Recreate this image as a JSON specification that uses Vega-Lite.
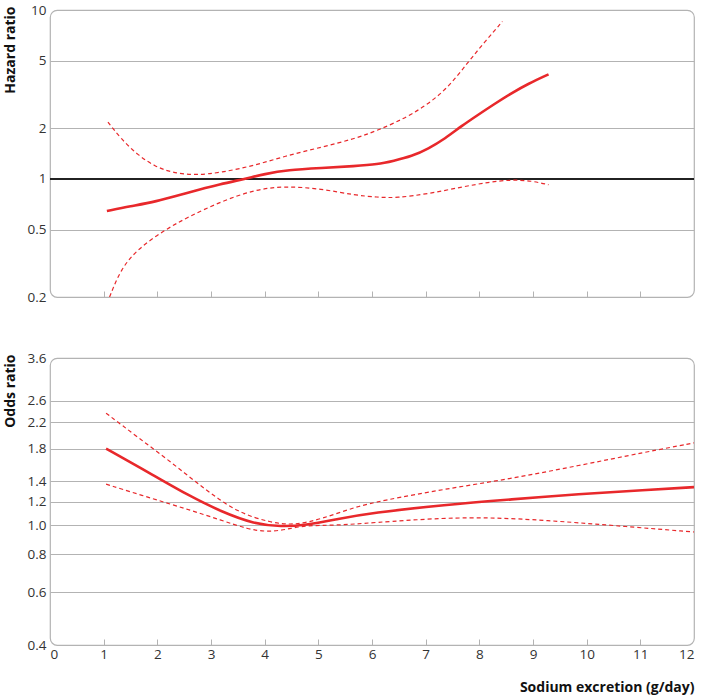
{
  "$schema": "https://vega.github.io/schema/vega-lite/v6.json",
  "padding": {"left": 2, "top": 2, "right": 0, "bottom": 0},
  "background": "white",
  "config": {
    "font": "Open Sans",
    "view": {"stroke": "#b3b3b3", "strokeWidth": 1.2, "cornerRadius": 7},
    "axis": {
      "labelFont": "Open Sans",
      "labelFontSize": 13.5,
      "labelColor": "#333333",
      "titleFont": "Open Sans",
      "titleFontSize": 14,
      "titleFontWeight": "bold",
      "titleColor": "#111111",
      "gridColor": "#b3b3b3",
      "gridWidth": 1.2,
      "tickColor": "#b3b3b3",
      "domain": false
    }
  },
  "datasets": {
    "hr": [
      {"x": 1.06, "y": 0.646, "bound": "est"},
      {"x": 1.5, "y": 0.69, "bound": "est"},
      {"x": 1.95, "y": 0.73, "bound": "est"},
      {"x": 2.57, "y": 0.83, "bound": "est"},
      {"x": 3.19, "y": 0.935, "bound": "est"},
      {"x": 3.63, "y": 1.0, "bound": "est"},
      {"x": 4.0, "y": 1.07, "bound": "est"},
      {"x": 4.43, "y": 1.13, "bound": "est"},
      {"x": 5.06, "y": 1.16, "bound": "est"},
      {"x": 5.68, "y": 1.19, "bound": "est"},
      {"x": 6.11, "y": 1.22, "bound": "est"},
      {"x": 6.4, "y": 1.28, "bound": "est"},
      {"x": 6.74, "y": 1.36, "bound": "est"},
      {"x": 7.05, "y": 1.51, "bound": "est"},
      {"x": 7.36, "y": 1.73, "bound": "est"},
      {"x": 7.67, "y": 2.06, "bound": "est"},
      {"x": 7.98, "y": 2.4, "bound": "est"},
      {"x": 8.29, "y": 2.79, "bound": "est"},
      {"x": 8.6, "y": 3.22, "bound": "est"},
      {"x": 8.91, "y": 3.66, "bound": "est"},
      {"x": 9.29, "y": 4.16, "bound": "est"},
      {"x": 1.08, "y": 2.17, "bound": "hi"},
      {"x": 1.32, "y": 1.73, "bound": "hi"},
      {"x": 1.64, "y": 1.38, "bound": "hi"},
      {"x": 1.95, "y": 1.19, "bound": "hi"},
      {"x": 2.26, "y": 1.09, "bound": "hi"},
      {"x": 2.69, "y": 1.05, "bound": "hi"},
      {"x": 3.19, "y": 1.09, "bound": "hi"},
      {"x": 3.81, "y": 1.2, "bound": "hi"},
      {"x": 4.43, "y": 1.38, "bound": "hi"},
      {"x": 5.06, "y": 1.54, "bound": "hi"},
      {"x": 5.68, "y": 1.73, "bound": "hi"},
      {"x": 6.11, "y": 1.94, "bound": "hi"},
      {"x": 6.74, "y": 2.38, "bound": "hi"},
      {"x": 7.36, "y": 3.27, "bound": "hi"},
      {"x": 7.79, "y": 4.92, "bound": "hi"},
      {"x": 8.1, "y": 6.46, "bound": "hi"},
      {"x": 8.43, "y": 8.55, "bound": "hi"},
      {"x": 1.11, "y": 0.2, "bound": "lo"},
      {"x": 1.32, "y": 0.294, "bound": "lo"},
      {"x": 1.64, "y": 0.386, "bound": "lo"},
      {"x": 2.13, "y": 0.497, "bound": "lo"},
      {"x": 2.57, "y": 0.595, "bound": "lo"},
      {"x": 3.19, "y": 0.736, "bound": "lo"},
      {"x": 3.81, "y": 0.863, "bound": "lo"},
      {"x": 4.37, "y": 0.908, "bound": "lo"},
      {"x": 5.06, "y": 0.875, "bound": "lo"},
      {"x": 5.68, "y": 0.8, "bound": "lo"},
      {"x": 6.1, "y": 0.78, "bound": "lo"},
      {"x": 6.45, "y": 0.77, "bound": "lo"},
      {"x": 7.05, "y": 0.817, "bound": "lo"},
      {"x": 7.67, "y": 0.895, "bound": "lo"},
      {"x": 8.17, "y": 0.957, "bound": "lo"},
      {"x": 8.6, "y": 0.99, "bound": "lo"},
      {"x": 8.97, "y": 0.975, "bound": "lo"},
      {"x": 9.29, "y": 0.924, "bound": "lo"}
    ],
    "or": [
      {"x": 1.045, "y": 1.8, "bound": "est"},
      {"x": 1.95, "y": 1.46, "bound": "est"},
      {"x": 2.57, "y": 1.26, "bound": "est"},
      {"x": 3.19, "y": 1.11, "bound": "est"},
      {"x": 3.81, "y": 1.01, "bound": "est"},
      {"x": 4.31, "y": 0.99, "bound": "est"},
      {"x": 4.75, "y": 1.0, "bound": "est"},
      {"x": 5.37, "y": 1.05, "bound": "est"},
      {"x": 5.99, "y": 1.1, "bound": "est"},
      {"x": 7.36, "y": 1.17, "bound": "est"},
      {"x": 8.6, "y": 1.22, "bound": "est"},
      {"x": 9.85, "y": 1.27, "bound": "est"},
      {"x": 11.09, "y": 1.31, "bound": "est"},
      {"x": 12.0, "y": 1.34, "bound": "est"},
      {"x": 1.045, "y": 2.36, "bound": "hi"},
      {"x": 1.64, "y": 1.96, "bound": "hi"},
      {"x": 2.26, "y": 1.62, "bound": "hi"},
      {"x": 2.88, "y": 1.32, "bound": "hi"},
      {"x": 3.5, "y": 1.1, "bound": "hi"},
      {"x": 4.12, "y": 1.02, "bound": "hi"},
      {"x": 4.56, "y": 1.0, "bound": "hi"},
      {"x": 5.06, "y": 1.05, "bound": "hi"},
      {"x": 5.68, "y": 1.15, "bound": "hi"},
      {"x": 6.2, "y": 1.21, "bound": "hi"},
      {"x": 7.36, "y": 1.32, "bound": "hi"},
      {"x": 8.6, "y": 1.43, "bound": "hi"},
      {"x": 9.85, "y": 1.58, "bound": "hi"},
      {"x": 11.09, "y": 1.75, "bound": "hi"},
      {"x": 12.0, "y": 1.88, "bound": "hi"},
      {"x": 1.045, "y": 1.37, "bound": "lo"},
      {"x": 1.95, "y": 1.22, "bound": "lo"},
      {"x": 2.57, "y": 1.13, "bound": "lo"},
      {"x": 3.19, "y": 1.04, "bound": "lo"},
      {"x": 3.69, "y": 0.97, "bound": "lo"},
      {"x": 4.06, "y": 0.95, "bound": "lo"},
      {"x": 4.43, "y": 0.97, "bound": "lo"},
      {"x": 4.75, "y": 1.0, "bound": "lo"},
      {"x": 5.37, "y": 1.0, "bound": "lo"},
      {"x": 5.99, "y": 1.02, "bound": "lo"},
      {"x": 7.36, "y": 1.06, "bound": "lo"},
      {"x": 8.29, "y": 1.06, "bound": "lo"},
      {"x": 9.22, "y": 1.04, "bound": "lo"},
      {"x": 10.47, "y": 1.0, "bound": "lo"},
      {"x": 12.0, "y": 0.95, "bound": "lo"}
    ]
  },
  "bounds": "flush",
  "spacing": 61,
  "vconcat": [
    {
      "width": 644,
      "height": 287,
      "data": {"name": "hr"},
      "encoding": {
        "x": {
          "field": "x",
          "type": "quantitative",
          "scale": {"domain": [0, 12], "nice": false, "zero": false},
          "axis": {
            "values": [0, 1, 2, 3, 4, 5, 6, 7, 8, 9, 10, 11, 12],
            "labels": false,
            "grid": false,
            "title": null,
            "tickSize": -6,
            "tickOpacity": {"condition": {"test": "datum.value == 0 || datum.value == 12", "value": 0}, "value": 1}
          }
        },
        "y": {
          "field": "y",
          "type": "quantitative",
          "scale": {"type": "log", "domain": [0.2, 10], "nice": false},
          "axis": {
            "values": [0.2, 0.5, 1, 2, 5, 10],
            "format": "~g",
            "ticks": false,
            "labelPadding": 4,
            "title": "Hazard ratio",
            "titleAngle": -90,
            "titleAlign": "right",
            "titleBaseline": "alphabetic",
            "titleX": -36,
            "titleY": -4,
            "gridOpacity": {"condition": {"test": "datum.value == 0.2 || datum.value == 10 || datum.value == 1", "value": 0}, "value": 1}
          }
        }
      },
      "layer": [
        {
          "mark": {"type": "rule", "color": "#222222", "strokeWidth": 1.2},
          "encoding": {"x": null, "y": {"datum": 1}}
        },
        {
          "transform": [{"filter": "datum.bound != 'est'"}],
          "mark": {"type": "line", "color": "#e8282b", "strokeWidth": 1.2, "strokeDash": [4, 3], "interpolate": "basis", "clip": true},
          "encoding": {"detail": {"field": "bound"}}
        },
        {
          "transform": [{"filter": "datum.bound == 'est'"}],
          "mark": {"type": "line", "color": "#e8282b", "strokeWidth": 2.6, "interpolate": "basis", "clip": true}
        }
      ]
    },
    {
      "width": 644,
      "height": 287,
      "data": {"name": "or"},
      "encoding": {
        "x": {
          "field": "x",
          "type": "quantitative",
          "scale": {"domain": [0, 12], "nice": false, "zero": false},
          "axis": {
            "values": [0, 1, 2, 3, 4, 5, 6, 7, 8, 9, 10, 11, 12],
            "grid": false,
            "tickSize": -6,
            "labelPadding": 8,
            "tickOpacity": {"condition": {"test": "datum.value == 0 || datum.value == 12", "value": 0}, "value": 1},
            "title": "Sodium excretion (g/day)",
            "titleAnchor": "end",
            "titleAlign": "right",
            "titleBaseline": "alphabetic",
            "titleX": 644,
            "titleY": 46
          }
        },
        "y": {
          "field": "y",
          "type": "quantitative",
          "scale": {"type": "log", "domain": [0.4, 3.6], "nice": false},
          "axis": {
            "values": [0.4, 0.6, 0.8, 1.0, 1.2, 1.4, 1.8, 2.2, 2.6, 3.6],
            "format": ".1f",
            "ticks": false,
            "labelPadding": 4,
            "title": "Odds ratio",
            "titleAngle": -90,
            "titleAlign": "right",
            "titleBaseline": "alphabetic",
            "titleX": -36,
            "titleY": -4,
            "gridOpacity": {"condition": {"test": "datum.value == 0.4 || datum.value == 3.6", "value": 0}, "value": 1}
          }
        }
      },
      "layer": [
        {
          "transform": [{"filter": "datum.bound != 'est'"}],
          "mark": {"type": "line", "color": "#e8282b", "strokeWidth": 1.2, "strokeDash": [4, 3], "interpolate": "basis", "clip": true},
          "encoding": {"detail": {"field": "bound"}}
        },
        {
          "transform": [{"filter": "datum.bound == 'est'"}],
          "mark": {"type": "line", "color": "#e8282b", "strokeWidth": 2.6, "interpolate": "basis", "clip": true}
        }
      ]
    }
  ],
  "resolve": {"scale": {"y": "independent"}}
}
